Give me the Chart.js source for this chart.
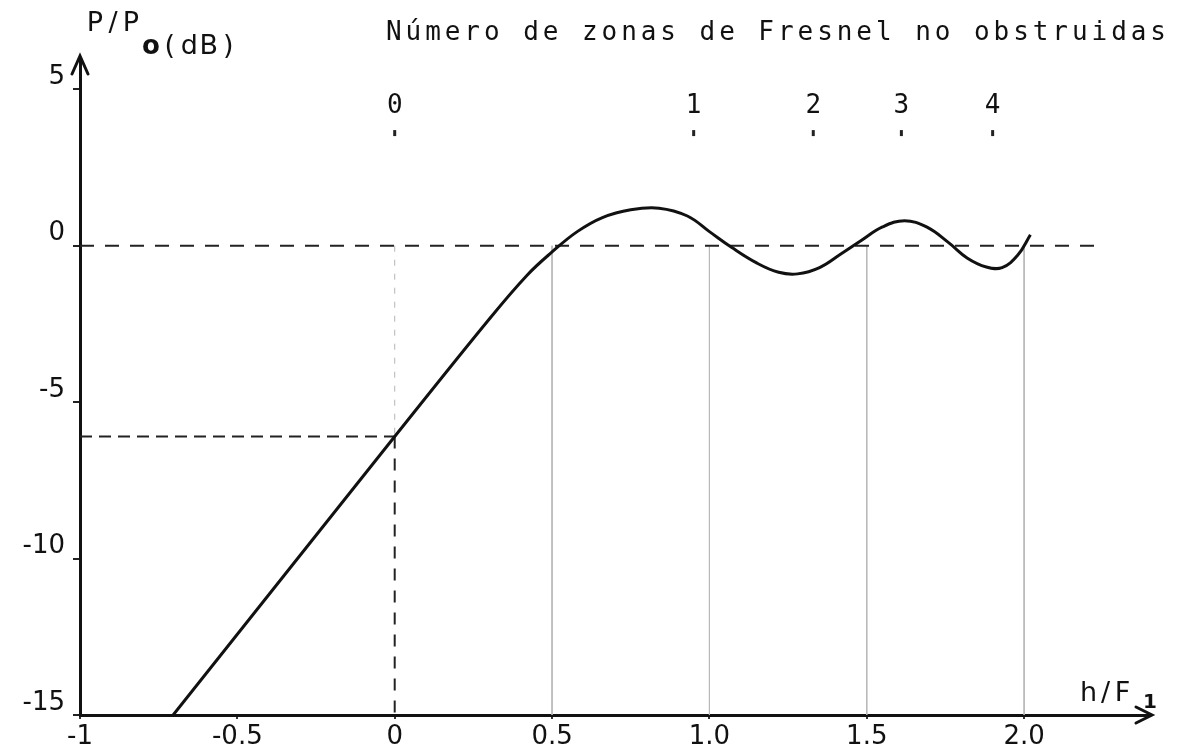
<!DOCTYPE html>
<html lang="es">
<head>
<meta charset="UTF-8">
<title>Pérdida por obstrucción de zonas de Fresnel</title>
<script src="https://cdn.jsdelivr.net/npm/chart.js"></script>
<style>
  html, body { margin: 0; padding: 0; background: #fff; }
  #wrap { width: 1180px; height: 749px; }
</style>
</head>
<body>
<div id="wrap"><canvas id="fresnelChart" width="1180" height="749"></canvas></div>
<script>
// Received level P/Po (dB) against clearance h/F1
const curveX = [-0.704, 0, 0.3, 0.42, 0.5, 0.58, 0.66, 0.75, 0.84, 0.93, 1.0, 1.07, 1.15, 1.22, 1.28, 1.35, 1.42, 1.48, 1.55, 1.62, 1.69, 1.76, 1.82, 1.88, 1.93, 1.98, 2.02];
const curveY = [-15, -6.1, -2.35, -0.95, -0.2, 0.45, 0.9, 1.15, 1.2, 0.95, 0.45, -0.05, -0.55, -0.85, -0.9, -0.7, -0.25, 0.15, 0.6, 0.8, 0.6, 0.1, -0.4, -0.68, -0.7, -0.3, 0.35];

// axis ticks
const xTickValues = [-1, -0.5, 0, 0.5, 1, 1.5, 2];
const xTickLabels = ["-1", "-0.5", "0", "0.5", "1.0", "1.5", "2.0"];
const yTickValues = [5, 0, -5, -10, -15];

// number of unobstructed Fresnel zones, placed along h/F1
const zoneLabels = ["0", "1", "2", "3", "4"];
const zoneX = [0, 0.95, 1.33, 1.61, 1.9];

// reference lines
const guideX = [0.5, 1.0, 1.5, 2.0];
const freeSpaceLevel = 0;
const freeSpaceEnd = 2.23;
const grazingLevel = -6.1;

const X_MIN = -1, X_MAX = 2.4, Y_MIN = -15, Y_MAX = 6;

const pts = (xs, ys) => xs.map((x, i) => ({ x, y: ys[i] }));

function drawSpaced(ctx, text, left, baseline, pitch) {
  [...text].forEach((ch, i) => ctx.fillText(ch, left + i * pitch + pitch / 2, baseline));
}

// axis arrows and the hand-lettered captions
const captions = {
  id: 'captions',
  afterDraw(chart) {
    const { ctx, chartArea: area, scales: { x } } = chart;
    ctx.save();
    ctx.strokeStyle = '#111';
    ctx.fillStyle = '#111';
    ctx.lineWidth = 3;
    ctx.lineCap = 'round';

    // arrow heads
    ctx.beginPath();
    ctx.moveTo(area.left - 8, area.top + 16);
    ctx.lineTo(area.left, area.top - 2);
    ctx.lineTo(area.left + 8, area.top + 16);
    ctx.moveTo(area.right - 14, area.bottom - 8);
    ctx.lineTo(area.right + 2, area.bottom);
    ctx.lineTo(area.right - 14, area.bottom + 8);
    ctx.stroke();

    ctx.textAlign = 'center';
    ctx.textBaseline = 'alphabetic';

    // y axis title
    ctx.font = '27px "DejaVu Sans"';
    drawSpaced(ctx, 'P/P', 86, 31, 18);
    ctx.font = 'bold 26px "DejaVu Sans"';
    drawSpaced(ctx, 'o', 142, 54, 18);
    ctx.font = '27px "DejaVu Sans"';
    drawSpaced(ctx, '(dB)', 160, 54, 19.5);

    // x axis title
    ctx.font = '27px "DejaVu Sans"';
    drawSpaced(ctx, 'h/F', 1080, 701, 17);
    ctx.font = 'bold 20px "DejaVu Sans"';
    ctx.fillText('1', 1150, 708);

    // zone header
    ctx.font = '26px "DejaVu Sans Mono"';
    drawSpaced(ctx, 'Número de zonas de Fresnel no obstruidas', 384, 40, 19.6);
    zoneLabels.forEach((lbl, i) => {
      ctx.fillText(lbl, x.getPixelForValue(zoneX[i]), 113);
    });
    ctx.restore();
  }
};

const zoneMarks = zoneX.map(v => ({ x: v, y: 3.6 }));

new Chart(document.getElementById('fresnelChart'), {
  type: 'scatter',
  data: {
    datasets: [
      {
        data: pts(curveX, curveY),
        showLine: true,
        borderColor: '#111',
        borderWidth: 3,
        tension: 0.4,
        pointRadius: 0
      },
      {
        data: [{ x: X_MIN, y: freeSpaceLevel }, { x: freeSpaceEnd, y: freeSpaceLevel }],
        showLine: true,
        borderColor: '#222',
        borderWidth: 2,
        borderDash: [14, 11],
        pointRadius: 0
      },
      {
        data: [{ x: X_MIN, y: grazingLevel }, { x: 0, y: grazingLevel }],
        showLine: true,
        borderColor: '#222',
        borderWidth: 2,
        borderDash: [12, 7],
        pointRadius: 0
      },
      {
        data: [{ x: 0, y: grazingLevel }, { x: 0, y: Y_MIN }],
        showLine: true,
        borderColor: '#222',
        borderWidth: 2,
        borderDash: [12, 10],
        pointRadius: 0
      },
      {
        data: [{ x: 0, y: freeSpaceLevel }, { x: 0, y: grazingLevel }],
        showLine: true,
        borderColor: '#b5b5b5',
        borderWidth: 1,
        borderDash: [6, 8],
        pointRadius: 0
      },
      ...guideX.map(g => ({
        data: [{ x: g, y: freeSpaceLevel }, { x: g, y: Y_MIN }],
        showLine: true,
        borderColor: '#b8b8b8',
        borderWidth: 1,
        pointRadius: 0
      })),
      {
        data: zoneMarks,
        showLine: false,
        pointStyle: 'line',
        rotation: 90,
        radius: 3,
        borderColor: '#222',
        borderWidth: 3,
        backgroundColor: '#222'
      }
    ]
  },
  options: {
    responsive: false,
    animation: false,
    events: [],
    layout: { padding: { top: 58, right: 30, left: 0, bottom: 0 } },
    plugins: { legend: { display: false }, tooltip: { enabled: false } },
    scales: {
      x: {
        type: 'linear',
        min: X_MIN,
        max: X_MAX,
        afterBuildTicks: s => { s.ticks = xTickValues.map(value => ({ value })); },
        afterFit: s => { s.height = 34; },
        border: { color: '#111', width: 3 },
        grid: { drawOnChartArea: false, tickLength: 4, color: '#333', lineWidth: 2 },
        ticks: {
          padding: 3,
          color: '#111',
          font: { family: 'DejaVu Sans', size: 26 },
          maxRotation: 0,
          autoSkip: false,
          callback: (v, i) => xTickLabels[i]
        }
      },
      y: {
        type: 'linear',
        min: Y_MIN,
        max: Y_MAX,
        afterBuildTicks: s => { s.ticks = yTickValues.map(value => ({ value })); },
        afterFit: s => { s.width = 80; },
        border: { color: '#111', width: 3 },
        grid: { drawOnChartArea: false, tickLength: 7, color: '#222', lineWidth: 2 },
        ticks: {
          padding: 8,
          labelOffset: -12,
          color: '#111',
          font: { family: 'DejaVu Sans', size: 26 },
          autoSkip: false,
          callback: v => String(v)
        }
      }
    }
  },
  plugins: [captions]
});
</script>
</body>
</html>
